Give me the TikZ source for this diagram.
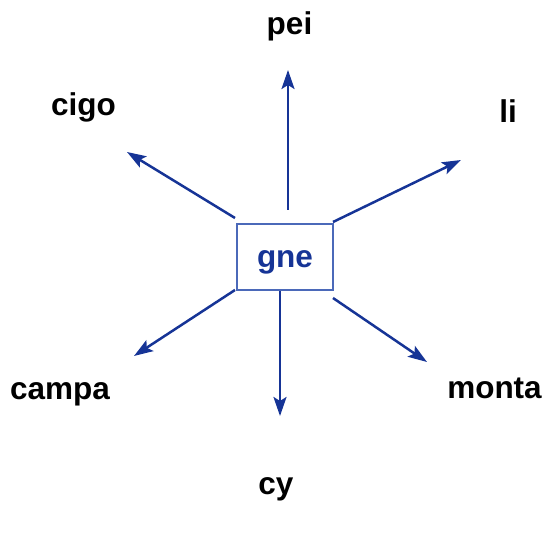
\documentclass[tikz,border=0pt]{standalone}
\usepackage{fontspec}
\setmainfont{Liberation Sans}
\usetikzlibrary{arrows.meta}
\definecolor{arrowblue}{RGB}{22,52,150}
\definecolor{boxblue}{RGB}{75,105,185}
\begin{document}
\begin{tikzpicture}[x=1pt, y=-1pt, >={Stealth[length=19pt,width=13pt,inset=4pt]},
  word/.style={anchor=base, font=\fontsize{31.5}{36}\selectfont\bfseries},
  spoke/.style={->, line width=2.5pt, arrowblue}]
  \useasboundingbox (0,0) rectangle (547,537);

  % --- 1. centre box ---
  \node[draw=boxblue, line width=1.4pt, minimum width=96pt, minimum height=66pt,
        text height=28pt, text depth=6pt, inner sep=0pt,
        text=arrowblue, font=\fontsize{31.5}{36}\selectfont\bfseries] (gne) at (285,257) {gne};

  % --- 2. outer words ---
  \node[word] (pei)   at (289.5,35) {pei};
  \node[word] (cigo)  at (83.5,116) {cigo};
  \node[word] (li)    at (508,123)  {li};
  \node[word] (campa) at (60,400)   {campa};
  \node[word] (monta) at (494.5,399) {monta};
  \node[word] (cy)    at (276,495)  {cy};

  % --- 3. spoke ends ---
  \coordinate (s-pei)   at (288,210);  \coordinate (t-pei)   at (288,70);
  \coordinate (s-cigo)  at (235,218);  \coordinate (t-cigo)  at (127,152);
  \coordinate (s-li)    at (333,222);  \coordinate (t-li)    at (461,160);
  \coordinate (s-campa) at (235,290);  \coordinate (t-campa) at (134,356);
  \coordinate (s-monta) at (333,298);  \coordinate (t-monta) at (427,362);
  \coordinate (s-cy)    at (280,291);  \coordinate (t-cy)    at (280,416);

  % --- 4. arrows ---
  \foreach \w in {pei,cigo,li,campa,monta,cy}
    \draw[spoke] (s-\w) -- (t-\w);

\end{tikzpicture}
\end{document}
